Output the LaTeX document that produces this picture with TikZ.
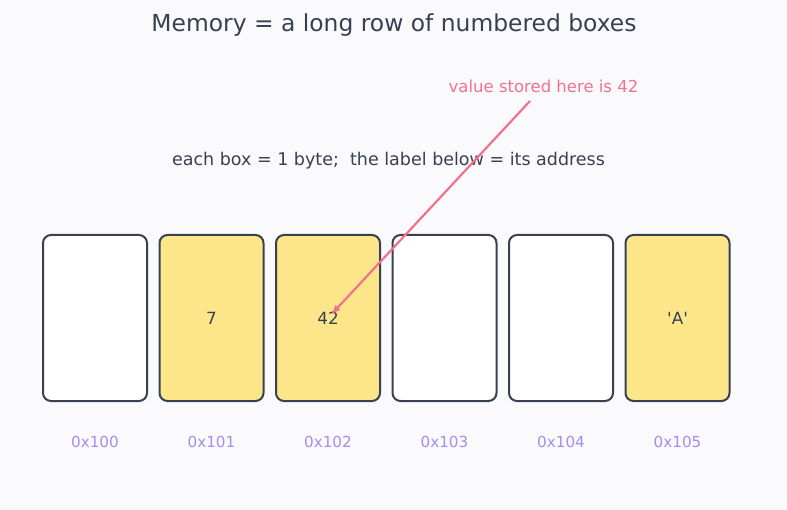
\documentclass[tikz,border=0pt]{standalone}
\usepackage{fontspec}
\setmainfont{DejaVu Sans}
\usetikzlibrary{arrows,positioning,calc}
\definecolor{ink}{HTML}{374151}
\definecolor{cellfill}{HTML}{FDE68A}
\definecolor{addr}{HTML}{A48EEA}
\definecolor{note}{HTML}{F2728E}
\definecolor{paper}{HTML}{FAFAFD}
\newcommand{\squote}{\XeTeXglyph\number\XeTeXcharglyph"27\relax}

\begin{document}
\begin{tikzpicture}[>=latex,x=1pt,y=-1pt]
	\tikzset{cell/.style = {draw=ink,line width=2pt,rounded corners=8pt,minimum width=104pt,minimum height=166pt,inner sep=0pt,font=\fontsize{16.8}{19}\selectfont,text=ink}}
	\tikzset{addrlabel/.style = {text=addr,font=\fontsize{15.2}{17}\selectfont}}
	% background
	\fill[paper] (0,0) rectangle (787,510);
	\useasboundingbox (0,0) rectangle (787,510);
	% texts
	\node[text=ink,font=\fontsize{23.4}{27}\selectfont] (title) at (394,25.5) {Memory = a long row of numbered boxes};
	\node[text=ink,font=\fontsize{17.5}{20}\selectfont] (sub) at (388.5,161) {each box = 1 byte;\ \ the label below = its address};
	\node[text=note,font=\fontsize{16.5}{19}\selectfont] (ann) at (543.5,86.5) {value stored here is 42};
	% boxes
	\foreach \i/\v/\f in {0//white,1/7/cellfill,2/42/cellfill,3//white,4//white,5/{\squote A\squote}/cellfill}{
		\node[cell,fill=\f] (b\i) at (95+116.5*\i,318) {\v};
		\node[addrlabel] (a\i) at (95+116.5*\i,442) {0x10\i};
	}
	% arrow
	\coordinate (tail) at (530,101);
	\draw[->,note,line width=2.2pt,shorten >=5pt] (tail) -- (b2.center);
\end{tikzpicture}
\end{document}
